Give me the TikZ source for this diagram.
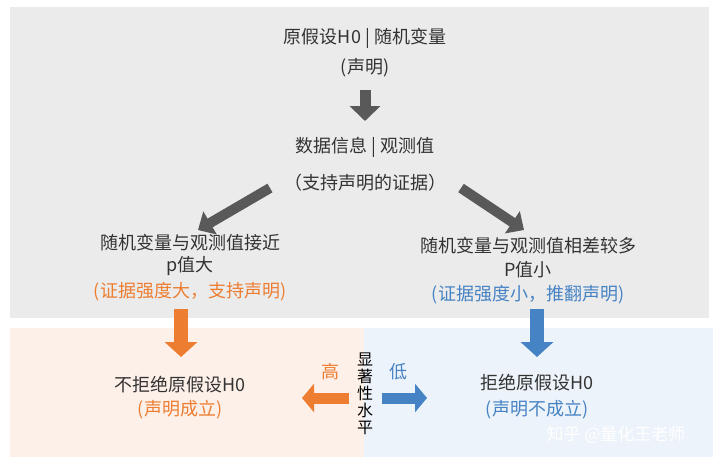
\documentclass[tikz,border=0pt]{standalone}
\usepackage{fontspec}
\setmainfont{Noto Sans CJK SC}
\usetikzlibrary{arrows.meta}
\definecolor{bggray}{HTML}{EBEBEB}
\definecolor{bgorange}{HTML}{FDF0E8}
\definecolor{bgblue}{HTML}{EDF3FA}
\definecolor{txt}{HTML}{333333}
\definecolor{myorange}{HTML}{ED7D31}
\definecolor{myblue}{HTML}{4683C4}
\definecolor{darkarrow}{HTML}{595959}
\tikzset{
  lbl/.style={font=\fontsize{18}{20}\selectfont, text=txt, inner sep=0pt, anchor=center},
  olbl/.style={lbl, text=myorange},
  blbl/.style={lbl, text=myblue},
  fatdark/.style={draw=darkarrow, line width=11pt, -{Triangle[width=30pt,length=15pt]}},
  fatdiag/.style={draw=darkarrow, line width=10pt, -{Triangle[width=26pt,length=14pt]}},
  fatvert/.style={line width=14pt, -{Triangle[width=32pt,length=15pt]}},
  fathor/.style={line width=11pt, -{Triangle[width=28pt,length=12pt]}},
}
\begin{document}
\begin{tikzpicture}[x=1pt,y=-1pt]
\useasboundingbox (0,0) rectangle (720,467);
% backgrounds
\fill[bggray] (10,7) rectangle (709,318);
\fill[bgorange] (10,328) rectangle (364,457);
\fill[bgblue] (364,328) rectangle (713,457);

% top texts
\node[lbl] (h0) at (365,38) {原假设H0 | 随机变量};
\node[lbl] (decl) at (365,68) {(声明)};
\node[lbl] (data) at (365,147) {数据信息 | 观测值};
\node[lbl] (evid) at (365,183) {（支持声明的证据）};

% left / right middle
\node[lbl] (l1) at (190,243) {随机变量与观测值接近};
\node[lbl] (l2) at (190,266) {p值大};
\node[olbl] (l3) at (190,292) {(证据强度大，支持声明)};
\node[lbl] (r1) at (528,246) {随机变量与观测值相差较多};
\node[lbl] (r2) at (528,270) {P值小};
\node[blbl] (r3) at (528,295) {(证据强度小，推翻声明)};

% bottom
\node[lbl] (nl) at (180,385) {不拒绝原假设H0};
\node[olbl] (nl2) at (180,410) {(声明成立)};
\node[lbl] (rj) at (537,383) {拒绝原假设H0};
\node[blbl] (rj2) at (537,410) {(声明不成立)};

\node[lbl, text=black, font=\fontsize{16}{17}\selectfont, align=center] (sig) at (365,394) {显\\著\\性\\水\\平};
\node[olbl] (hi) at (330,372) {高};
\node[blbl] (lo) at (398,372) {低};

\node[lbl, text=white, font=\fontsize{17}{19}\selectfont] (wm) at (616,435) {知乎 @量化王老师};

% arrow end points
\coordinate (a1s) at (365,90);
\coordinate (a1e) at (365,121);
\coordinate (a2s) at (270,188);
\coordinate (a2e) at (198,230);
\coordinate (a3s) at (461,188);
\coordinate (a3e) at (524,230);
\coordinate (a4s) at (181,309);
\coordinate (a4e) at (181,357);
\coordinate (a5s) at (537,309);
\coordinate (a5e) at (537,357);
\coordinate (a6s) at (349,398);
\coordinate (a6e) at (302,398);
\coordinate (a7s) at (382,398);
\coordinate (a7e) at (427,398);

\draw[fatdark] (a1s) -- (a1e);
\draw[fatdiag] (a2s) -- (a2e);
\draw[fatdiag] (a3s) -- (a3e);
\draw[fatvert, draw=myorange] (a4s) -- (a4e);
\draw[fatvert, draw=myblue] (a5s) -- (a5e);
\draw[fathor, draw=myorange] (a6s) -- (a6e);
\draw[fathor, draw=myblue] (a7s) -- (a7e);
\end{tikzpicture}
\end{document}
